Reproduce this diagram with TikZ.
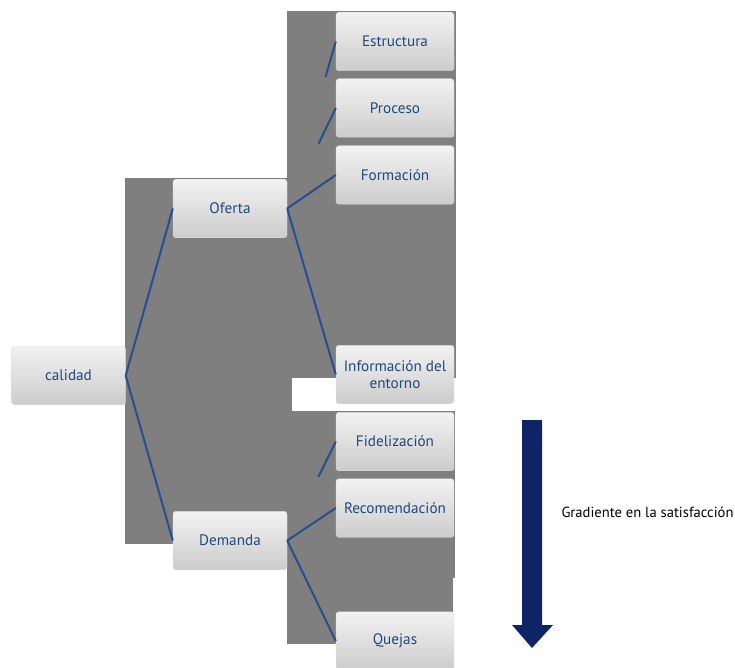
\documentclass[tikz,border=0pt]{standalone}
\usepackage{fontspec}
\setmainfont{PT Sans}
\definecolor{textblue}{RGB}{31,73,125}
\definecolor{lineblue}{RGB}{40,78,145}
\definecolor{arrownavy}{RGB}{14,36,102}
\definecolor{bggray}{RGB}{127,127,127}
\tikzset{
  box/.style={rectangle, rounded corners=3pt, draw=gray!25, top color=gray!10, middle color=white, bottom color=gray!40,
    text=textblue, minimum height=58.5pt, inner sep=2pt, align=center, font=\fontsize{15.2}{17.5}\selectfont},
  leafbox/.style={box, minimum width=118pt},
  rootbox/.style={box, minimum width=114pt},
  link/.style={draw=lineblue, line width=2pt}
}
\begin{document}
\begin{tikzpicture}[x=1pt,y=-1pt]
\useasboundingbox (0,0) rectangle (735,668);

\fill[bggray] (125,178) rectangle (292,544);
\fill[bggray] (287,11) rectangle (456,378);
\fill[bggray] (287,411) rectangle (455,578);
\fill[bggray] (287,578) rectangle (453,644);

\node[rootbox] (calidad) at (68.5,375.5) {calidad};
\node[rootbox] (oferta) at (230,208.5) {Oferta};
\node[rootbox] (demanda) at (230,540.5) {Demanda};

\node[leafbox] (estructura) at (395,41.5) {Estructura};
\node[leafbox] (proceso) at (395,108) {Proceso};
\node[leafbox] (formacion) at (395,175) {Formación};
\node[leafbox] (informacion) at (395,374.5) {Información del\\entorno};
\node[leafbox] (fidelizacion) at (395,441.5) {Fidelización};
\node[leafbox] (recomendacion) at (395,508) {Recomendación};
\node[leafbox] (quejas) at (395,641) {Quejas};

\draw[link] (calidad.east) -- (oferta.west);
\draw[link] (calidad.east) -- (demanda.west);

\draw[link, shorten <=137pt] (oferta.east) -- (estructura.west);
\draw[link, shorten <=72pt] (oferta.east) -- (proceso.west);
\draw[link] (oferta.east) -- (formacion.west);
\draw[link] (oferta.east) -- (informacion.west);

\draw[link, shorten <=71pt] (demanda.east) -- (fidelizacion.west);
\draw[link] (demanda.east) -- (recomendacion.west);
\draw[link] (demanda.east) -- (quejas.west);

\fill[arrownavy] (522,420) -- (542,420) -- (542,625) -- (553,625) -- (532,648) -- (512,625) -- (522,625) -- cycle;
\node[font=\fontsize{14.6}{16}\selectfont] (gradiente) at (647.5,512) {Gradiente en la satisfacción};

\end{tikzpicture}
\end{document}
